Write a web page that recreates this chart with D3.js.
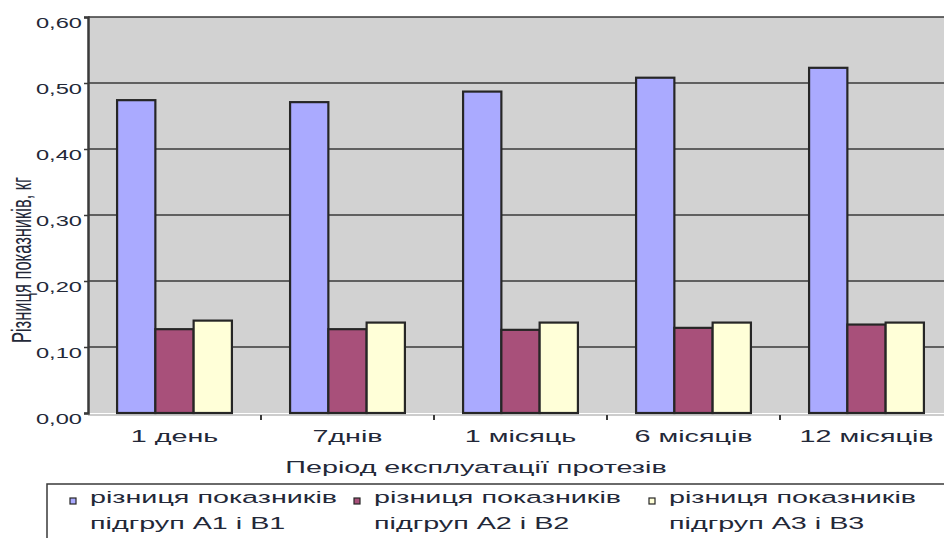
<!DOCTYPE html>
<html><head><meta charset="utf-8">
<script src="https://cdn.jsdelivr.net/npm/d3@7"></script>
<style>body{margin:0;background:#fff}svg{display:block}text{font-family:"Liberation Sans",Arial,sans-serif;fill:#232838}</style>
</head><body><svg id="c" width="944" height="538"></svg>
<script>
const categories = ["1 день", "7днів", "1 місяць", "6 місяців", "12 місяців"];
const seriesNames = ["різниця показників|підгруп А1 і В1", "різниця показників|підгруп А2 і В2", "різниця показників|підгруп А3 і В3"];
const seriesA1B1 = [0.474, 0.471, 0.487, 0.508, 0.523];
const seriesA2B2 = [0.127, 0.127, 0.126, 0.129, 0.134];
const seriesA3B3 = [0.140, 0.137, 0.137, 0.137, 0.137];
const yTicks = [0, 0.1, 0.2, 0.3, 0.4, 0.5, 0.6];
const colors = ["#aaaaff", "#a8507a", "#ffffd8"];
const seriesValues = [seriesA1B1, seriesA2B2, seriesA3B3];

const SX = 1.69;
const svg = d3.select("#c");
const L = 88, T = 17, B = 413, R = 953;
const y = d3.scaleLinear().domain([0, 0.6]).range([B, T]);
const x0 = d3.scaleBand().domain(categories).range([L, R]).padding(0);
const x1 = d3.scaleBand().domain([0,1,2]).range([0, x0.bandwidth()]).paddingInner(0).paddingOuter(0.76);
const fmt = d => d.toFixed(2).replace(".", ",");

function stext(g, x, yy, str, size, anchor, sx) {
  return g.append("text").attr("transform", `translate(${x},${yy}) scale(${sx||SX},1)`)
    .attr("text-anchor", anchor).style("font-size", size + "px").text(str);
}

// plot background
svg.append("rect").attr("x", L).attr("y", T).attr("width", R - L).attr("height", B - T).attr("fill", "#d2d2d2");
svg.append("line").attr("x1", L).attr("x2", R).attr("y1", B + 2).attr("y2", B + 2).attr("stroke", "#9a9a9a").attr("stroke-width", 1);

// gridlines
svg.append("g").selectAll("line").data(yTicks.filter(d => d > 0)).join("line")
  .attr("x1", L).attr("x2", R).attr("y1", d => y(d)).attr("y2", d => y(d))
  .attr("stroke", "#3a3a3a").attr("stroke-width", 1.6);

// bars
const gBars = svg.append("g");
seriesValues.forEach((vals, si) => {
  gBars.append("g").selectAll("rect").data(vals).join("rect")
    .attr("x", (d, i) => x0(categories[i]) + x1(si))
    .attr("y", d => y(d))
    .attr("width", x1.bandwidth())
    .attr("height", d => B - y(d))
    .attr("fill", colors[si]).attr("stroke", "#262626").attr("stroke-width", 2.2);
});

// y axis
const yAxis = d3.axisLeft(y).tickValues(yTicks).tickFormat(fmt).tickSize(4);
const ya = svg.append("g").attr("transform", `translate(${L},0)`).call(yAxis);
ya.select(".domain").attr("stroke", "#3a3a3a").attr("stroke-width", 2.5);
ya.selectAll(".tick line").attr("stroke", "#3a3a3a").attr("stroke-width", 1.5);
ya.selectAll(".tick text").remove();
const gyl = svg.append("g");
yTicks.forEach(t => stext(gyl, 82, y(t) + 11, fmt(t), 14, "end"));

// x axis ticks at boundaries
const boundaries = categories.slice(1).map(c => x0(c));
svg.append("g").selectAll("line").data(boundaries).join("line")
  .attr("x1", d => d).attr("x2", d => d).attr("y1", B + 2).attr("y2", B + 7)
  .attr("stroke", "#3a3a3a").attr("stroke-width", 2);
const gxl = svg.append("g");
categories.forEach(c => stext(gxl, x0(c) + x0.bandwidth() / 2, 442, c, 17, "middle"));

// axis titles
stext(svg, 476, 473, "Період експлуатації протезів", 17, "middle");
svg.append("text").attr("transform", "translate(31,260) rotate(-90) scale(1," + SX + ")")
  .attr("text-anchor", "middle").style("font-size", "16.5px").text("Різниця показників, кг");

// legend
svg.append("rect").attr("x", 47).attr("y", 484).attr("width", 920).attr("height", 70)
  .attr("fill", "#fff").attr("stroke", "#3a3a3a").attr("stroke-width", 1.5);
const legX = [73, 357, 652];
seriesNames.forEach((n, i) => {
  svg.append("rect").attr("x", legX[i] - 3).attr("y", 498).attr("width", 6).attr("height", 6)
    .attr("fill", colors[i]).attr("stroke", "#262626").attr("stroke-width", 1.2);
  const parts = n.split("|");
  stext(svg, legX[i] + 17, 503, parts[0], 17, "start");
  stext(svg, legX[i] + 17, 529, parts[1], 17, "start");
});
</script></body></html>
